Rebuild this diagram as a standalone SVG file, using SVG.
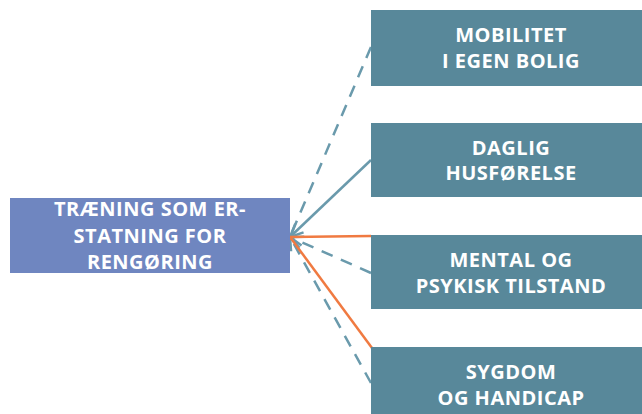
<svg xmlns="http://www.w3.org/2000/svg" width="642" height="414" viewBox="0 0 642 414">
<defs>
<style>
.lbl{font-family:"Open Sans",Lato,"Liberation Sans",sans-serif;font-weight:bold;font-size:20px;letter-spacing:0.5px;fill:#ffffff;text-anchor:middle}
.rb{fill:#58889a}
.blue{stroke:#6a9aac;stroke-width:2.5;fill:none}
.dash{stroke-dasharray:12 9}
.orange{stroke:#f07a41;stroke-width:2.5;fill:none}
</style>
<marker id="arr" markerUnits="userSpaceOnUse" markerWidth="20" markerHeight="20" viewBox="-16 -10 20 20" refX="0" refY="0" orient="auto">
<path d="M-13,-6 L0,0 L-13,6" fill="none" stroke="#6a9aac" stroke-width="2.5"/>
</marker>
</defs>
<rect width="642" height="414" fill="#ffffff"/>
<g id="connectors">
<line class="blue dash" x1="371" y1="47" x2="290" y2="237"/>
<line class="blue" x1="371" y1="160" x2="290" y2="237" marker-end="url(#arr)"/>
<line class="blue dash" x1="371" y1="273" x2="290" y2="237" marker-end="url(#arr)"/>
<line class="blue dash" x1="371" y1="383" x2="290" y2="237" marker-end="url(#arr)"/>
<line class="orange" x1="290" y1="237" x2="371" y2="236"/>
<line class="orange" x1="290" y1="237" x2="372" y2="348"/>
</g>
<g id="center">
<rect x="10" y="198" width="280" height="75" fill="#6f86c0"/>
<text class="lbl" x="150" y="216">TRÆNING SOM ER-</text>
<text class="lbl" x="150" y="243">STATNING FOR</text>
<text class="lbl" x="150" y="269">RENGØRING</text>
</g>
<g id="mobilitet">
<rect class="rb" x="371" y="10" width="280" height="76"/>
<text class="lbl" x="511" y="42">MOBILITET</text>
<text class="lbl" x="511" y="68">I EGEN BOLIG</text>
</g>
<g id="daglig">
<rect class="rb" x="371" y="123" width="280" height="74"/>
<text class="lbl" x="511" y="155">DAGLIG</text>
<text class="lbl" x="511" y="180">HUSFØRELSE</text>
</g>
<g id="mental">
<rect class="rb" x="371" y="235" width="280" height="74"/>
<text class="lbl" x="511" y="267">MENTAL OG</text>
<text class="lbl" x="511" y="293">PSYKISK TILSTAND</text>
</g>
<g id="sygdom">
<rect class="rb" x="371" y="347" width="280" height="74"/>
<text class="lbl" x="511" y="379">SYGDOM</text>
<text class="lbl" x="511" y="405">OG HANDICAP</text>
</g>
</svg>
